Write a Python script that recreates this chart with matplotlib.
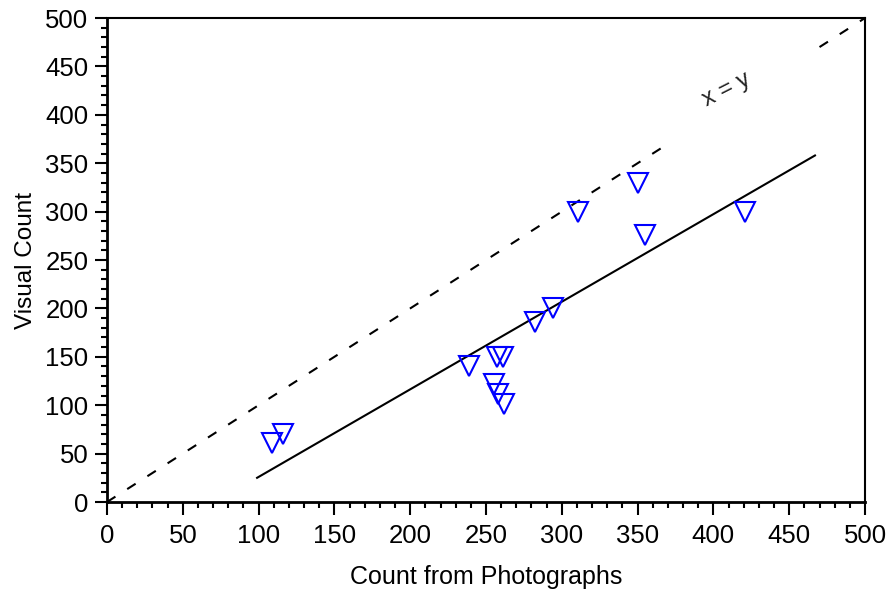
import matplotlib.pyplot as plt
import numpy as np
from matplotlib.ticker import MultipleLocator

plt.rcParams['font.family'] = ['Liberation Sans', 'DejaVu Sans']

# data
photo_count = [109, 116, 239, 257, 261, 255, 258, 262, 282, 294, 311, 350, 355, 421]
visual_count = [61, 70, 140, 150, 150, 122, 112, 101, 186, 200, 300, 330, 276, 300]

fit_x = [99, 467]
fit_y = [25, 358]

ident_x = [0, 366]
ident_x2 = [470, 500]

fig = plt.figure(figsize=(8.88, 5.95), dpi=100)
ax = fig.add_axes([0.1205, 0.1563, 0.8536, 0.8134])

# x = y reference line (dashed, broken where the label sits)
ax.plot(ident_x, ident_x, color='black', lw=1.5, ls=(0, (4.8, 6.7)))
ax.plot(ident_x2, ident_x2, color='black', lw=1.5, ls=(0, (4.8, 6.7)))
ax.text(409, 426, 'x = y', rotation=27, fontsize=17, ha='center', va='center', color='#222222')

# fitted line
ax.plot(fit_x, fit_y, color='black', lw=1.5)

ax.plot(photo_count, visual_count, 'v', ms=14, mfc='none', mec='#0000FF', mew=1.5)

ax.set_xlim(0, 500)
ax.set_ylim(0, 500)
ax.xaxis.set_major_locator(MultipleLocator(50))
ax.yaxis.set_major_locator(MultipleLocator(50))
ax.xaxis.set_minor_locator(MultipleLocator(10))
ax.yaxis.set_minor_locator(MultipleLocator(10))
ax.tick_params(which='major', direction='out', length=9, width=1.5, labelsize=18.5)
ax.tick_params(which='minor', direction='out', length=4.5, width=1.5)
ax.tick_params(axis='x', which='major', pad=7)
ax.tick_params(axis='y', which='major', pad=4.5)
for s in ['left', 'bottom']:
    ax.spines[s].set_linewidth(2)
for s in ['top', 'right']:
    ax.spines[s].set_linewidth(1.5)

ax.set_xlabel('Count from Photographs', fontsize=18, labelpad=12)
ax.set_ylabel('Visual Count', fontsize=17.5, labelpad=6)

fig.savefig('out.png', dpi=100)
